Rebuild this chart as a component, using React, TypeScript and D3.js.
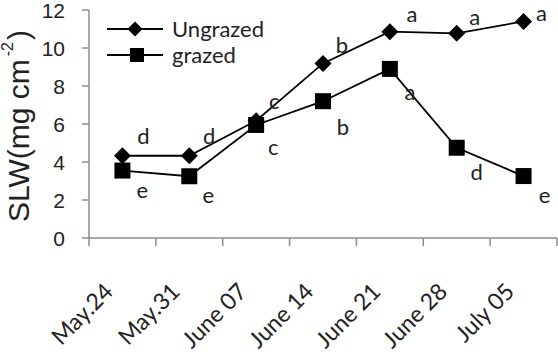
import React from "react";
import * as d3 from "d3";

const categories = ["May.24", "May.31", "June 07", "June 14", "June 21", "June 28", "July 05"];
const ungrazed = [4.33, 4.33, 6.17, 9.19, 10.86, 10.77, 11.4];
const grazed = [3.55, 3.25, 5.95, 7.2, 8.9, 4.75, 3.26];
const ungrazedLetters = ["d", "d", "c", "b", "a", "a", "a"];
const grazedLetters = ["e", "e", "c", "b", "a", "d", "e"];
const yTicks = [0, 2, 4, 6, 8, 10, 12];

// label offsets (dx, dy baseline) relative to the point
const ungrazedOffsets = [[21, -12], [20, -12], [18, -12], [19, -10], [22, -10], [18, -8], [18, 0]];
const grazedOffsets = [[20, 27], [19, 27], [17, 30], [20, 34], [20, 31], [20, 32], [21, 27]];

const W = 558, H = 363;
const left = 89, right = 557, top = 10, bottom = 238;
const calibri = "Lato, 'Open Sans', sans-serif";
const arial = "'Liberation Sans', Arial, sans-serif";

export default function App() {
  const x = d3.scaleBand().domain(categories).range([left, right]).padding(0);
  const y = d3.scaleLinear().domain([0, 12]).range([bottom, top]);
  const cx = (c: string) => (x(c) as number) + x.bandwidth() / 2;
  const line = d3.line<number>().x((_, i) => cx(categories[i])).y((v) => y(v));
  const tickXs = [...categories.map((c) => x(c) as number), right];

  const diamond = (px: number, py: number, r: number) =>
    `M${px},${py - r}L${px + r},${py}L${px},${py + r}L${px - r},${py}Z`;

  return (
    <svg width={W} height={H} style={{ position: "absolute", left: 0, top: 0, background: "#fff" }}>
      {/* axes */}
      <line x1={left} x2={left} y1={top} y2={bottom} stroke="#8c8c8c" strokeWidth={1.5} />
      <line x1={left - 1} x2={right} y1={bottom} y2={bottom} stroke="#8c8c8c" strokeWidth={1.5} />
      {yTicks.map((t) => (
        <g key={t}>
          <line x1={left - 7} x2={left} y1={y(t)} y2={y(t)} stroke="#8c8c8c" strokeWidth={1.5} />
          <text x={65} y={y(t) + 7.5} textAnchor="end" fontFamily={arial} fontSize={21} fill="#222">
            {t}
          </text>
        </g>
      ))}
      {tickXs.map((tx, i) => (
        <line key={i} x1={tx} x2={tx} y1={bottom} y2={bottom + 8} stroke="#8c8c8c" strokeWidth={1.5} />
      ))}
      {categories.map((c) => (
        <text
          key={c}
          transform={`translate(${cx(c) - 8},${293}) rotate(-45)`}
          textAnchor="end"
          fontFamily={calibri}
          fontSize={23}
          fill="#222"
        >
          {c}
        </text>
      ))}
      {/* y title */}
      <text
        transform={`translate(29,222) rotate(-90)`}
        textAnchor="start"
        fontFamily={arial}
        fontSize={30}
        fill="#222"
      >
        SLW(mg cm
        <tspan fontSize={16} dx={3} dy={-16}>-2</tspan>
        <tspan dx={2} dy={16}>)</tspan>
      </text>

      {/* lines */}
      <path d={line(ungrazed) || ""} fill="none" stroke="#000" strokeWidth={1.8} />
      <path d={line(grazed) || ""} fill="none" stroke="#000" strokeWidth={1.8} />
      {ungrazed.map((v, i) => (
        <path key={"u" + i} d={diamond(cx(categories[i]), y(v), 8.5)} fill="#000" />
      ))}
      {grazed.map((v, i) => (
        <rect key={"g" + i} x={cx(categories[i]) - 8} y={y(v) - 8} width={16} height={16} fill="#000" />
      ))}
      {ungrazedLetters.map((l, i) => (
        <text
          key={"ul" + i}
          x={cx(categories[i]) + ungrazedOffsets[i][0]}
          y={y(ungrazed[i]) + ungrazedOffsets[i][1]}
          textAnchor="middle"
          fontFamily={calibri}
          fontSize={22}
          fill="#222"
        >
          {l}
        </text>
      ))}
      {grazedLetters.map((l, i) => (
        <text
          key={"gl" + i}
          x={cx(categories[i]) + grazedOffsets[i][0]}
          y={y(grazed[i]) + grazedOffsets[i][1]}
          textAnchor="middle"
          fontFamily={calibri}
          fontSize={22}
          fill="#222"
        >
          {l}
        </text>
      ))}

      {/* legend */}
      <line x1={107} x2={163} y1={29} y2={29} stroke="#000" strokeWidth={1.8} />
      <path d={diamond(135, 29, 7.5)} fill="#000" />
      <text x={172} y={37} fontFamily={calibri} fontSize={22} fill="#222">Ungrazed</text>
      <line x1={107} x2={163} y1={55} y2={55} stroke="#000" strokeWidth={1.8} />
      <rect x={130} y={48} width={14} height={14} fill="#000" />
      <text x={172} y={63} fontFamily={calibri} fontSize={22} fill="#222">grazed</text>
    </svg>
  );
}
